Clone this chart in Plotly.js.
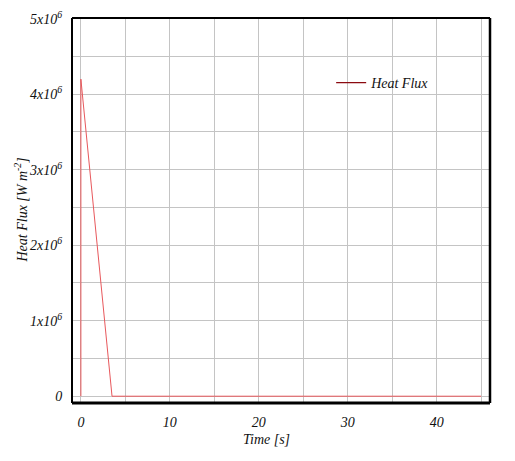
<!DOCTYPE html>
<html>
<head>
<meta charset="utf-8">
<script src="https://cdn.plot.ly/plotly-3.0.1.min.js"></script>
<style>html,body{margin:0;padding:0;background:#fff;}#chart{width:515px;height:461px;}</style>
</head>
<body>
<div id="chart"></div>
<script>
var timeS = [0, 0, 3.5, 45];
var heatFlux = [0, 4.2e6, 0, 0];
var yTickVals = [0, 0.5e6, 1e6, 1.5e6, 2e6, 2.5e6, 3e6, 3.5e6, 4e6, 4.5e6, 5e6];
var yTickText = ['0', '', '1x10<sup>6</sup>', '', '2x10<sup>6</sup>', '', '3x10<sup>6</sup>', '', '4x10<sup>6</sup>', '', '5x10<sup>6</sup>'];
var xTickVals = [0, 5, 10, 15, 20, 25, 30, 35, 40, 45];
var xTickText = ['0', '', '10', '', '20', '', '30', '', '40', ''];

var font = {family: 'Liberation Serif, Times New Roman, serif', size: 14, color: '#111'};

var trace = {
  x: timeS, y: heatFlux, mode: 'lines', name: '<i>Heat Flux</i>',
  line: {color: '#e8585c', width: 1}, showlegend: false
};
var legendTrace = {
  x: [null], y: [null], mode: 'lines', name: '<i>Heat Flux</i>',
  line: {color: '#8b0a10', width: 1.2}, showlegend: true
};

var layout = {
  width: 515, height: 461,
  margin: {l: 72, r: 25, t: 18, b: 58},
  paper_bgcolor: '#fff', plot_bgcolor: '#fff',
  font: font,
  showlegend: true,
  legend: {x: 0.62, y: 0.831, xanchor: 'left', yanchor: 'middle', bgcolor: 'rgba(0,0,0,0)',
           font: {family: font.family, size: 14, color: '#111'}},
  xaxis: {
    range: [-1, 46], tickvals: xTickVals, ticktext: xTickText,
    showgrid: true, gridcolor: '#c4c4c4', gridwidth: 1, zeroline: false,
    showline: false, ticks: 'outside', ticklen: 6, tickcolor: 'rgba(0,0,0,0)',
    tickfont: {family: font.family, size: 14, color: '#111', style: 'italic'}
  },
  yaxis: {
    range: [-0.09e6, 5.01e6], tickvals: yTickVals, ticktext: yTickText,
    showgrid: true, gridcolor: '#c4c4c4', gridwidth: 1, zeroline: false,
    showline: false, ticks: 'outside', ticklen: 6, tickcolor: 'rgba(0,0,0,0)',
    tickfont: {family: font.family, size: 14, color: '#111', style: 'italic'}
  },
  annotations: [
    {text: '<i>Time [s]</i>', xref: 'paper', yref: 'paper', x: 0.4665, y: -0.096,
     xanchor: 'center', yanchor: 'middle', showarrow: false,
     font: {family: font.family, size: 14, color: '#111'}},
    {text: '<i>Heat Flux [W m<sup>-2</sup>]</i>', xref: 'paper', yref: 'paper', x: -0.122, y: 0.5,
     xanchor: 'center', yanchor: 'middle', showarrow: false, textangle: -90,
     font: {family: font.family, size: 14, color: '#111'}}
  ],
  shapes: [
    {type: 'line', xref: 'paper', yref: 'paper', x0: 0, x1: 0, y0: 0, y1: 1, line: {color: '#000', width: 2}},
    {type: 'line', xref: 'paper', yref: 'paper', x0: 0, x1: 1, y0: 1, y1: 1, line: {color: '#000', width: 2}},
    {type: 'line', xref: 'paper', yref: 'paper', x0: 1, x1: 1, y0: 0, y1: 1, line: {color: '#000', width: 2.5}},
    {type: 'line', xref: 'paper', yref: 'paper', x0: 0, x1: 1, y0: 0, y1: 0, line: {color: '#000', width: 3}}
  ]
};

Plotly.newPlot('chart', [trace, legendTrace], layout, {displayModeBar: false, staticPlot: true});
</script>
</body>
</html>
